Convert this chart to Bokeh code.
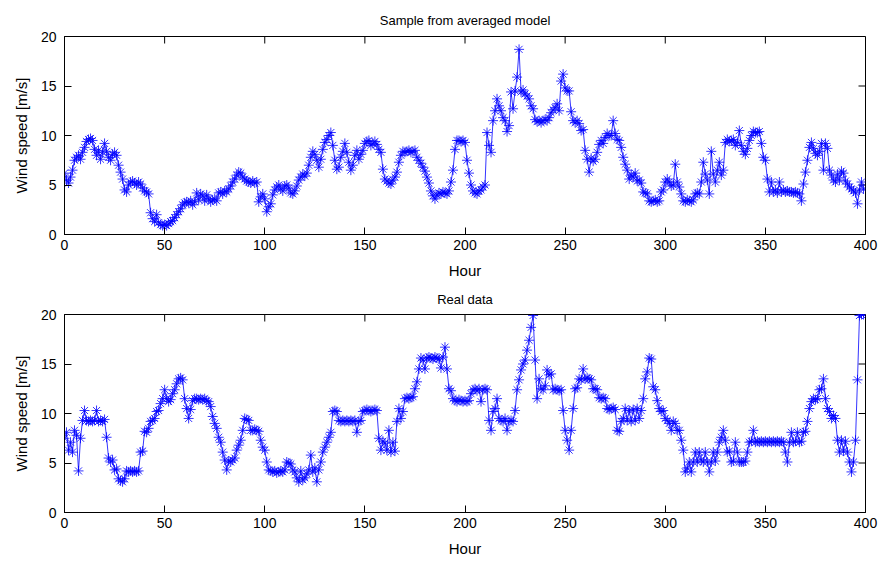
import math
from bokeh.plotting import figure
from bokeh.models import FixedTicker, Range1d, ColumnDataSource, Title
from bokeh.layouts import column
from bokeh.embed import file_html
from bokeh.resources import INLINE

hours = list(range(400))

model_speed = [
    6.2, 5.5, 5.2, 5.8, 6.5, 7.5, 7.8, 8.0, 7.6, 8.3,
    8.8, 9.4, 9.6, 9.7, 9.5, 8.6, 8.0, 8.5, 7.6, 8.3,
    9.2, 8.4, 7.8, 7.5, 8.1, 8.3, 8.0, 7.0, 6.3, 5.6,
    4.5, 4.3, 5.0, 5.3, 5.4, 5.2, 5.0, 5.3, 5.1, 4.7,
    4.4, 4.3, 4.1, 2.2, 1.6, 1.3, 2.0, 1.2, 1.0, 0.9,
    1.0, 0.9, 1.1, 1.3, 1.4, 1.7, 2.0, 2.3, 2.6, 3.0,
    3.2, 3.3, 3.2, 3.4, 3.0, 3.3, 4.2, 3.5, 4.1, 3.9,
    3.4, 4.0, 3.6, 3.3, 3.5, 3.6, 3.4, 4.2, 4.3, 4.1,
    4.4, 4.3, 4.6, 4.9, 5.3, 5.6, 6.0, 6.3, 6.2, 5.8,
    5.6, 5.4, 5.3, 5.2, 5.4, 5.2, 5.3, 3.3, 3.8, 4.1,
    3.6, 2.3, 2.8, 3.1, 4.0, 4.5, 4.8, 5.0, 4.6, 4.4,
    4.9, 5.0, 4.7, 4.2, 4.1, 4.4, 4.9, 5.5, 5.8, 6.1,
    5.9, 6.2, 7.0, 7.8, 8.4, 8.1, 7.5, 6.8, 7.6, 8.6,
    9.3, 9.6, 10.0, 10.3, 9.0, 7.5, 6.6, 6.8, 7.8, 8.4,
    9.2, 8.3, 7.3, 6.5, 7.0, 8.0, 8.5, 7.6, 8.1, 8.5,
    9.2, 9.4, 9.5, 9.0, 9.2, 9.4, 9.1, 8.6, 8.3, 6.6,
    5.6, 5.4, 5.2, 5.1, 5.5, 5.8, 6.3, 7.3, 8.0, 8.4,
    8.3, 8.4, 8.5, 8.3, 8.4, 8.5, 7.8, 7.5, 7.2, 6.8,
    6.4, 5.8, 5.2, 4.4, 3.9, 3.6, 4.0, 4.2, 4.1, 4.3,
    4.2, 4.1, 4.4, 5.3, 6.5, 8.6, 9.5, 9.5, 9.4, 9.5,
    9.3, 7.5, 6.2, 5.0, 4.4, 4.2, 4.1, 4.4, 4.5, 4.8,
    5.0, 10.3, 9.0, 8.3, 11.5, 12.5, 13.7, 13.0, 12.5, 11.8,
    11.5, 10.4, 11.0, 14.4, 12.7, 14.5, 15.9, 18.7, 14.4, 14.6,
    14.2, 14.0, 13.7, 13.0, 12.7, 11.6, 11.4, 11.5, 11.3, 11.5,
    11.6, 11.5, 11.8, 12.3, 12.6, 12.8, 13.2, 12.5, 15.5, 16.2,
    14.8, 14.5, 14.5, 12.4, 11.5, 11.3, 11.5, 11.2, 10.5, 10.6,
    8.5, 7.6, 6.3, 7.7, 7.4, 7.6, 8.3, 9.1, 9.5, 9.2,
    9.8, 10.2, 10.0, 10.0, 11.5, 10.2, 9.6, 9.5, 8.8, 7.8,
    7.1, 6.5, 5.6, 6.0, 5.8, 6.2, 5.4, 5.5, 5.2, 4.3,
    4.2, 4.1, 3.4, 3.3, 3.4, 3.5, 3.3, 3.4, 4.3, 4.5,
    5.3, 5.6, 5.3, 4.9, 5.0, 7.1, 5.3, 4.8, 4.1, 3.4,
    3.3, 3.5, 3.4, 3.3, 3.5, 4.1, 4.2, 4.1, 5.3, 7.3,
    6.1, 5.5, 4.1, 8.4, 6.1, 5.3, 6.5, 7.3, 6.0, 6.5,
    9.3, 9.6, 9.4, 9.5, 9.6, 9.0, 9.3, 10.5, 9.0, 8.4,
    8.1, 8.7, 9.5, 10.0, 10.4, 10.3, 10.3, 10.4, 9.2, 7.8,
    7.5, 5.6, 4.3, 5.3, 4.3, 4.5, 4.2, 5.3, 4.3, 4.5,
    4.3, 4.4, 4.3, 4.3, 4.2, 4.3, 4.2, 4.1, 3.4, 5.1,
    6.3, 7.5, 8.8, 9.3, 8.7, 8.2, 8.0, 8.4, 9.2, 6.5,
    9.2, 8.7, 6.5, 6.0, 5.5, 5.3, 6.1, 5.5, 6.4, 6.2,
    5.4, 5.1, 4.8, 4.6, 4.4, 4.2, 3.1, 4.5, 5.3, 4.6,
]

real_speed = [
    7.5, 8.1, 6.3, 7.1, 6.1, 8.3, 7.8, 4.2, 7.5, 9.3,
    10.3, 9.3, 9.2, 9.3, 9.2, 9.3, 10.3, 9.2, 9.3, 9.2,
    9.4, 7.6, 5.5, 5.1, 5.3, 4.3, 4.4, 3.4, 3.2, 3.1,
    3.4, 4.2, 4.1, 4.2, 4.1, 4.2, 4.1, 4.2, 6.1, 6.2,
    8.2, 8.1, 8.5, 9.2, 9.3, 9.5, 10.2, 10.3, 11.0, 11.5,
    12.4, 11.5, 11.2, 11.4, 12.0, 12.4, 13.0, 13.5, 13.6, 13.4,
    11.5, 10.5, 9.5, 10.4, 11.3, 11.5, 11.5, 11.4, 11.5, 11.4,
    11.5, 11.3, 11.2, 10.7, 9.7, 9.0, 8.5, 7.6, 7.1, 6.1,
    5.3, 4.3, 5.2, 5.1, 5.3, 5.5, 6.3, 6.8, 7.3, 8.3,
    9.5, 9.4, 9.3, 8.3, 8.3, 8.4, 8.3, 8.2, 7.3, 6.6,
    6.3, 5.1, 4.3, 4.2, 4.1, 4.2, 4.0, 4.1, 4.2, 4.1,
    4.3, 5.1, 5.0, 4.9, 4.3, 4.1, 3.5, 3.1, 4.2, 3.3,
    3.5, 3.9, 4.3, 5.8, 4.1, 4.5, 3.1, 4.3, 5.1, 6.1,
    6.6, 7.1, 7.6, 8.1, 10.2, 10.3, 10.2, 9.3, 9.2, 9.3,
    9.2, 9.3, 9.2, 9.3, 9.2, 9.3, 8.1, 9.2, 9.3, 10.2,
    10.3, 10.4, 10.3, 10.2, 10.3, 10.4, 10.3, 7.5, 6.3, 7.2,
    7.0, 6.3, 8.3, 6.1, 7.1, 6.2, 9.2, 10.5, 9.5, 10.2,
    11.5, 11.6, 11.5, 11.6, 11.7, 12.5, 13.2, 14.5, 15.6, 15.4,
    14.5, 15.6, 15.7, 15.6, 15.5, 15.7, 15.6, 15.5, 14.6, 15.7,
    16.7, 14.5, 12.5, 12.3, 11.5, 11.3, 11.2, 11.4, 11.3, 11.2,
    11.3, 11.2, 11.3, 12.0, 12.4, 12.5, 12.3, 12.5, 11.2, 12.4,
    12.5, 12.4, 9.3, 8.3, 10.2, 10.5, 11.5, 9.5, 9.3, 9.2,
    9.5, 8.3, 9.2, 9.3, 9.2, 10.3, 12.4, 13.4, 14.4, 15.0,
    15.4, 16.4, 17.4, 18.7, 19.9, 15.4, 11.5, 13.5, 12.5, 12.4,
    12.8, 14.4, 13.9, 14.0, 12.4, 12.5, 12.4, 12.3, 12.4, 10.3,
    8.3, 7.3, 6.3, 8.3, 10.5, 12.5, 12.6, 13.5, 13.4, 14.5,
    13.5, 13.6, 13.5, 13.4, 12.5, 12.5, 12.4, 11.6, 11.5, 11.6,
    11.5, 10.5, 10.4, 10.5, 10.6, 10.4, 8.3, 8.2, 9.2, 9.5,
    10.5, 9.3, 10.3, 9.2, 10.4, 9.3, 10.5, 9.5, 10.3, 11.5,
    13.5, 14.2, 15.6, 15.5, 12.7, 12.4, 11.3, 10.5, 10.2, 10.3,
    9.5, 9.3, 9.0, 8.3, 9.2, 9.0, 8.3, 8.3, 7.3, 6.3,
    4.1, 4.5, 5.1, 4.1, 5.1, 6.1, 5.1, 6.1, 5.3, 5.1,
    6.1, 5.1, 4.1, 5.1, 6.1, 5.2, 6.1, 7.1, 7.6, 8.3,
    7.3, 6.1, 6.2, 5.1, 5.2, 7.1, 6.1, 5.1, 5.1, 5.1,
    5.2, 6.1, 7.1, 7.2, 8.3, 7.1, 7.2, 7.1, 7.2, 7.1,
    7.2, 7.1, 7.2, 7.1, 7.2, 7.1, 7.2, 7.1, 7.2, 7.1,
    6.1, 5.1, 7.1, 8.1, 7.1, 7.2, 8.1, 7.1, 7.2, 8.1,
    8.2, 9.2, 10.5, 11.2, 11.5, 11.4, 11.5, 12.4, 12.5, 13.5,
    11.5, 10.5, 10.2, 9.5, 9.8, 9.5, 7.3, 6.1, 7.3, 6.2,
    7.2, 6.1, 5.1, 4.1, 5.1, 7.3, 13.4, 19.9, 20.0, 20.0,
]

x_ticks = [0, 50, 100, 150, 200, 250, 300, 350, 400]
y_ticks = [0, 5, 10, 15, 20]
x_max = 400
y_max = 20
titles = ["Sample from averaged model", "Real data"]
x_label = "Hour"
y_label = "Wind speed [m/s]"

FONT = "Liberation Sans"
TICK_LEN = 7


def style_axis(ax):
    ax.axis_line_color = "black"
    ax.axis_line_width = 1
    ax.major_tick_in = TICK_LEN
    ax.major_tick_out = 0
    ax.minor_tick_in = 0
    ax.minor_tick_out = 0
    ax.major_tick_line_color = "black"
    ax.major_label_text_font = FONT
    ax.major_label_text_color = "black"
    ax.major_label_text_font_size = "14px"
    ax.axis_label_text_font = FONT
    ax.axis_label_text_font_style = "normal"
    ax.axis_label_text_color = "black"
    ax.axis_label_text_font_size = "15px"


def make_plot(title, yvals, height, top, bottom, title_standoff):
    src = ColumnDataSource(dict(hour=hours, speed=yvals))
    p = figure(width=878, height=height, output_backend="svg", toolbar_location=None,
               title=None,
               x_range=Range1d(0, x_max), y_range=Range1d(0, y_max),
               min_border_left=64, min_border_right=13,
               min_border_top=top, min_border_bottom=bottom,
               background_fill_color="white", border_fill_color="white")
    p.grid.visible = False
    p.outline_line_color = "black"
    p.outline_line_width = 1

    p.xaxis.ticker = FixedTicker(ticks=x_ticks)
    p.yaxis.ticker = FixedTicker(ticks=y_ticks)
    p.xaxis.axis_label = x_label
    style_axis(p.xaxis[0])
    style_axis(p.yaxis[0])
    p.xaxis.major_label_standoff = 5
    p.xaxis.axis_label_standoff = 9
    p.yaxis.major_label_standoff = 8

    p.add_layout(Title(text=title, align="center", standoff=title_standoff,
                       text_font=FONT, text_font_style="normal", text_font_size="13px",
                       text_color="black"), "above")

    # y label as a side title so it can sit a little below the axis centre
    p.add_layout(Title(text=y_label, align="center", offset=-12, standoff=16,
                       text_font=FONT, text_font_style="normal", text_font_size="15px",
                       text_color="black"), "left")

    # inward ticks on the top and right edges of the box
    p.ray(x=x_ticks, y=[y_max] * len(x_ticks), length=TICK_LEN, length_units="screen",
          angle=-math.pi / 2, line_color="black", line_width=1)
    p.ray(x=[x_max] * len(y_ticks), y=y_ticks, length=TICK_LEN, length_units="screen",
          angle=math.pi, line_color="black", line_width=1)

    p.line("hour", "speed", source=src, line_color="#0000ff", line_width=0.8)
    p.scatter("hour", "speed", source=src, marker="asterisk", size=10,
              line_color="#0000ff", line_width=0.8)
    return p


p1 = make_plot(titles[0], model_speed, 281, 36, 47, 18)
p2 = make_plot(titles[1], real_speed, 280, 33, 49, 15)
layout = column(p1, p2, spacing=0)

open("out.html", "w").write(file_html(layout, INLINE))
